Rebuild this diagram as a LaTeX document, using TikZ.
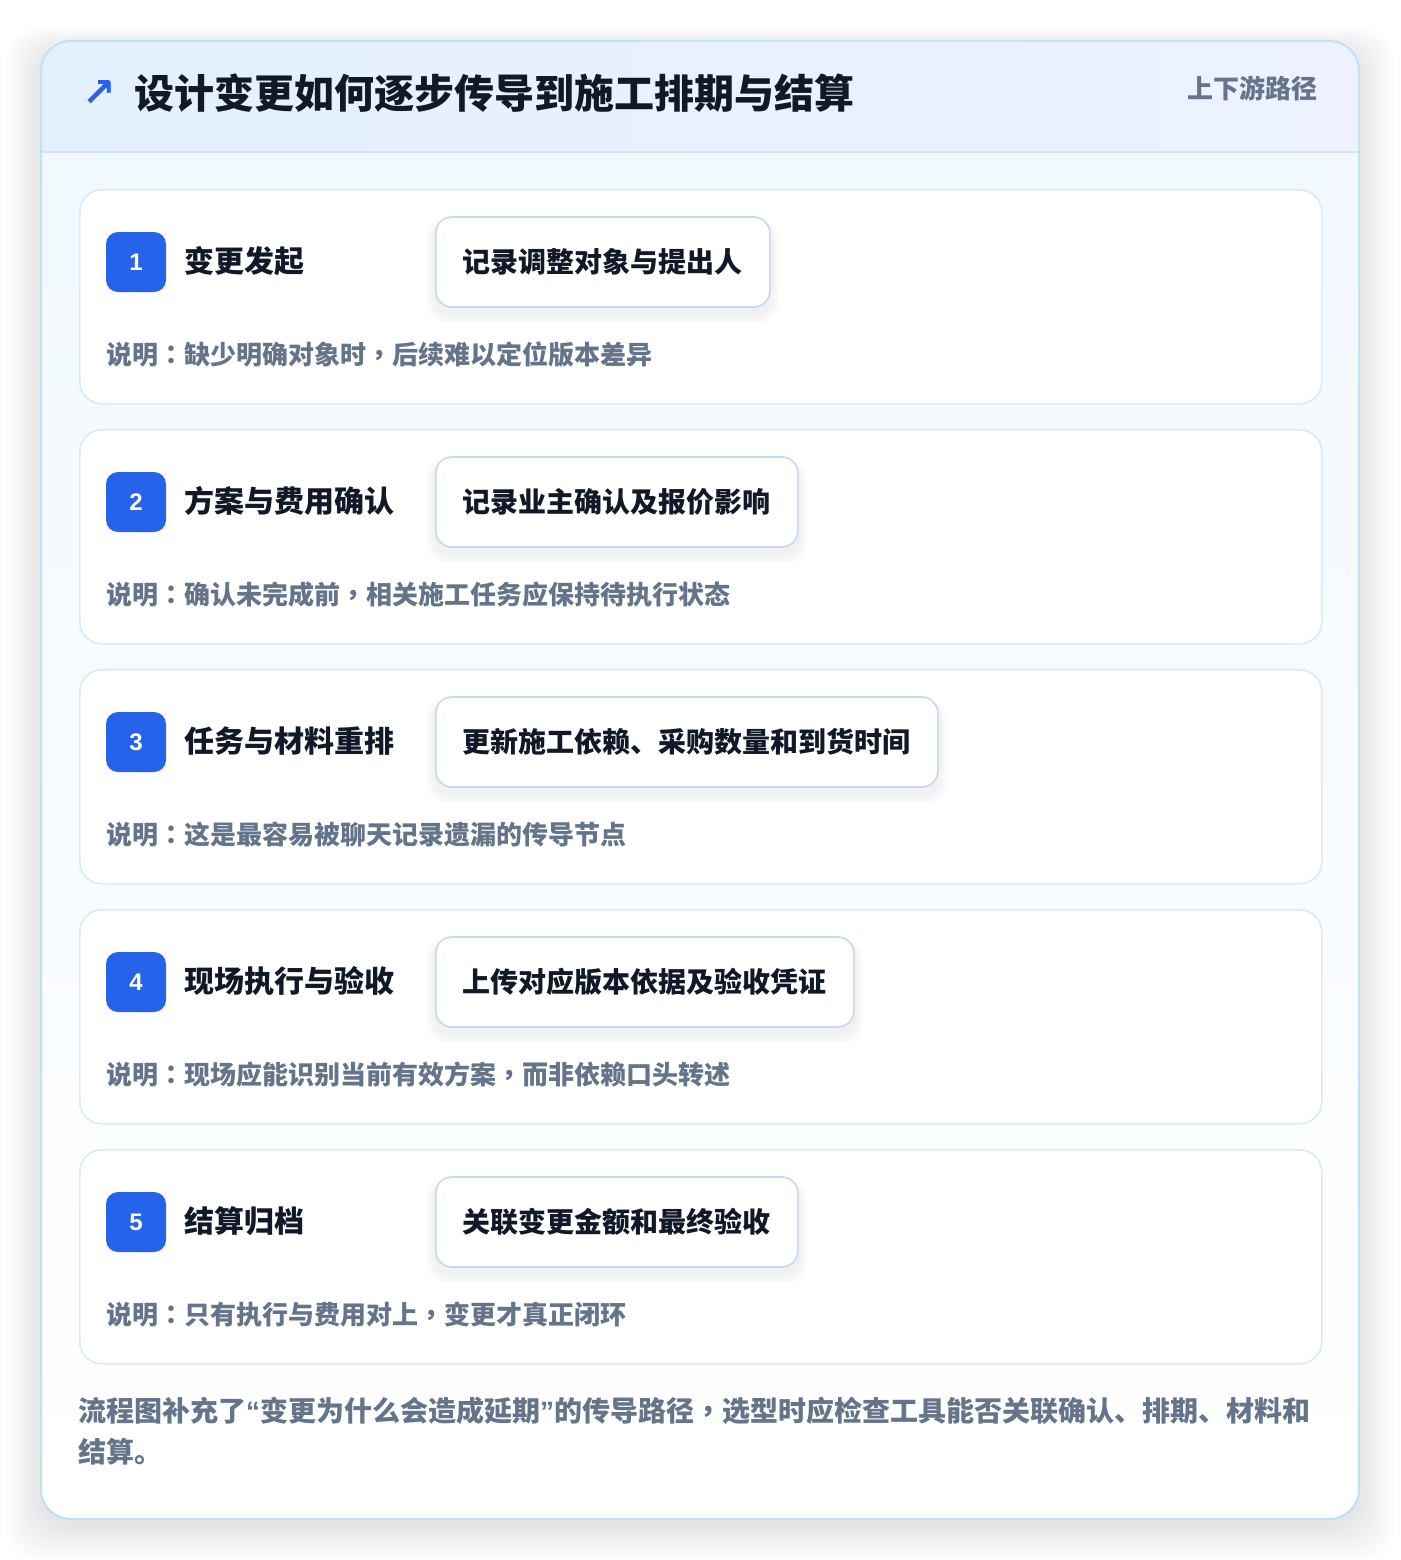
\documentclass[tikz,border=0pt]{standalone}
\usepackage{fontspec}
\setmainfont{Liberation Sans}
\newfontfamily\cjk{Noto Sans CJK SC}
\newfontfamily\cjktc{Noto Sans CJK TC}
\newfontfamily\symf{DejaVu Sans}
\newfontfamily\latinq{Liberation Sans}
\newcommand\pcomma{{\cjktc ，}}
\newcommand\pcolon{{\cjktc ：}}
\newcommand\openq{{\latinq “}}
\newcommand\closeq{{\latinq ”}}
\definecolor{ink}{HTML}{111827}
\definecolor{muted}{HTML}{64748B}
\definecolor{accent}{HTML}{2563EB}
\definecolor{panelborder}{HTML}{BEE3F8}
\definecolor{headleft}{HTML}{E3F0FD}
\definecolor{headright}{HTML}{EDF2FE}
\definecolor{headline}{HTML}{D3E6F7}
\definecolor{bodytop}{HTML}{F0F8FE}
\definecolor{cardborder}{HTML}{D9EAF8}
\definecolor{pillborder}{HTML}{C2DAF5}
\pgfdeclarelayer{back}
\pgfdeclarelayer{shadow}
\pgfsetlayers{back,shadow,main}
\tikzset{
  panelbox/.style={draw=panelborder, line width=2pt, rounded corners=30pt, inner sep=0pt},
  stepcard/.style={draw=cardborder, line width=1.6pt, fill=white, rounded corners=22pt, inner sep=0pt,
     minimum width=1242pt, minimum height=214pt, anchor=north west},
  badge/.style={fill=accent, rounded corners=12pt, minimum width=60pt, minimum height=60pt, inner sep=0pt,
     text=white, font=\fontsize{24}{28}\selectfont\bfseries},
  steplabel/.style={anchor=west, inner sep=0pt, text=ink, font=\cjk\fontsize{30}{36}\selectfont\bfseries},
  pill/.style={draw=pillborder, line width=1.6pt, fill=white, rounded corners=16pt, anchor=west,
     minimum height=90pt, inner xsep=27pt, inner ysep=0pt, text=ink, font=\cjk\fontsize{28}{34}\selectfont\bfseries},
  notetext/.style={anchor=west, inner sep=0pt, text=muted, font=\cjk\fontsize{26}{32}\selectfont\bfseries},
}
\begin{document}
\begin{tikzpicture}[x=1pt,y=-1pt]
\useasboundingbox (0,0) rectangle (1400,1560);
\begin{pgfonlayer}{back}
\fill[white] (0,0) rectangle (1400,1560);
% soft shadow of the panel
\foreach \s in {0,3,...,36} {
  \fill[black, opacity=0.007, rounded corners=32pt] (41-\s,49-\s*0.6) rectangle (1359+\s,1527+\s*0.9);
}
% panel body
\shade[top color=bodytop, bottom color=white, rounded corners=30pt] (41,41) rectangle (1359,1519);
\begin{scope}
  \clip[rounded corners=30pt] (41,41) rectangle (1359,1519);
  \shade[left color=headleft, right color=headright] (41,41) rectangle (1359,152);
  \draw[headline, line width=1.6pt] (41,152) -- (1359,152);
\end{scope}
\node[panelbox, minimum width=1318pt, minimum height=1478pt] (panel) at (700,780) {};
\end{pgfonlayer}
% header
\node[anchor=center, inner sep=0pt, text=accent, font=\symf\fontsize{40}{46}\selectfont\bfseries] (arrow) at (99,94) {↗};
\node[anchor=west, inner sep=0pt, text=ink, font=\cjk\fontsize{40}{48}\selectfont\bfseries] (title) at (134,93) {设计变更如何逐步传导到施工排期与结算};
\node[anchor=east, inner sep=0pt, text=muted, font=\cjk\fontsize{26}{32}\selectfont\bfseries] (tag) at (1318,88) {上下游路径};
% steps
\foreach \i/\lab/\act/\note in {
  1/变更发起/记录调整对象与提出人/说明\pcolon 缺少明确对象时\pcomma 后续难以定位版本差异,
  2/方案与费用确认/记录业主确认及报价影响/说明\pcolon 确认未完成前\pcomma 相关施工任务应保持待执行状态,
  3/任务与材料重排/更新施工依赖、采购数量和到货时间/说明\pcolon 这是最容易被聊天记录遗漏的传导节点,
  4/现场执行与验收/上传对应版本依据及验收凭证/说明\pcolon 现场应能识别当前有效方案\pcomma 而非依赖口头转述,
  5/结算归档/关联变更金额和最终验收/说明\pcolon 只有执行与费用对上\pcomma 变更才真正闭环} {
  \pgfmathsetmacro{\dy}{240*(\i-1)}
  \begin{pgfonlayer}{back}
    \node[stepcard] (card\i) at (79,189+\dy) {};
  \end{pgfonlayer}
  \node[badge] (badge\i) at (136,262+\dy) {\i};
  \node[steplabel] (label\i) at (184,261+\dy) {\lab};
  \node[pill] (act\i) at (435,262+\dy) {\act};
  \begin{pgfonlayer}{shadow}
  \foreach \k in {2,4,...,14} {
    \fill[black, opacity=0.006, rounded corners=18pt]
      ([xshift=-\k*0.6pt, yshift=-6pt-\k*0.7pt]act\i.south west) rectangle ([xshift=\k*0.6pt, yshift=-4pt]act\i.north east);
  }
  \end{pgfonlayer}
  \node[notetext] (note\i) at (106,355+\dy) {\note};
}
% footer
\node[anchor=north west, inner sep=0pt, text=muted, align=left,
  font=\cjk\fontsize{28}{41}\selectfont\bfseries] (footer) at (78,1397)
  {流程图补充了\openq 变更为什么会造成延期\closeq 的传导路径\pcomma 选型时应检查工具能否关联确认、排期、材料和\\结算。};
\end{tikzpicture}
\end{document}
